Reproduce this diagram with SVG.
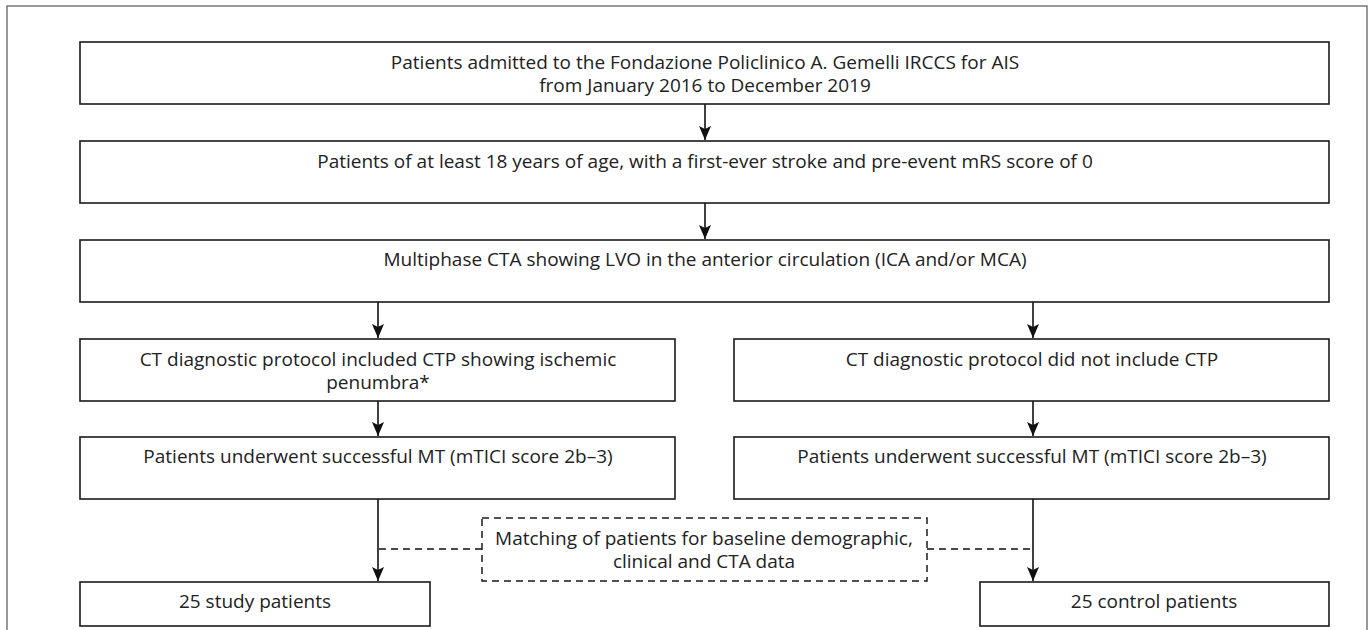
<svg xmlns="http://www.w3.org/2000/svg" width="1371" height="630" viewBox="0 0 1371 630">
<defs>
<marker id="arr" markerWidth="14" markerHeight="12" refX="14" refY="6" orient="auto" markerUnits="userSpaceOnUse" viewBox="0 0 14 12">
<path d="M0,0 L14,6 L0,12 L3,6 Z" fill="#111"/>
</marker>
</defs>
<style>
.box{fill:#fff;stroke:#1a1a1a;stroke-width:1.6}
.dbox{fill:#fff;stroke:#1a1a1a;stroke-width:1.5;stroke-dasharray:7,5}
.t{font-family:"Open Sans","Noto Sans",sans-serif;font-size:19px;fill:#222;text-anchor:middle}
.c{fill:none;stroke:#111;stroke-width:1.6}
.d{fill:none;stroke:#111;stroke-width:1.5;stroke-dasharray:7,5}
</style>
<rect x="0" y="0" width="1371" height="630" fill="#fff"/>
<rect x="7" y="6" width="1360" height="640" fill="none" stroke="#555" stroke-width="1.2"/>
<g id="connectors">
<line class="c" x1="705" y1="104" x2="705" y2="140" marker-end="url(#arr)"/>
<line class="c" x1="705" y1="203" x2="705" y2="239" marker-end="url(#arr)"/>
<line class="c" x1="378" y1="302" x2="378" y2="338" marker-end="url(#arr)"/>
<line class="c" x1="1033" y1="302" x2="1033" y2="338" marker-end="url(#arr)"/>
<line class="c" x1="378" y1="401" x2="378" y2="436" marker-end="url(#arr)"/>
<line class="c" x1="1033" y1="401" x2="1033" y2="436" marker-end="url(#arr)"/>
<line class="c" x1="378" y1="499" x2="378" y2="581" marker-end="url(#arr)"/>
<line class="c" x1="1033" y1="499" x2="1033" y2="581" marker-end="url(#arr)"/>
<line class="d" x1="379" y1="549" x2="482" y2="549"/>
<line class="d" x1="927" y1="549" x2="1032" y2="549"/>
</g>
<g id="n1">
<rect class="box" x="80" y="42" width="1249" height="62"/>
<text class="t" x="705" y="69">Patients admitted to the Fondazione Policlinico A. Gemelli IRCCS for AIS</text>
<text class="t" x="705" y="92">from January 2016 to December 2019</text>
</g>
<g id="n2">
<rect class="box" x="80" y="141" width="1249" height="62"/>
<text class="t" x="705" y="168">Patients of at least 18 years of age, with a first-ever stroke and pre-event mRS score of 0</text>
</g>
<g id="n3">
<rect class="box" x="80" y="240" width="1249" height="62"/>
<text class="t" x="705" y="266">Multiphase CTA showing LVO in the anterior circulation (ICA and/or MCA)</text>
</g>
<g id="n4">
<rect class="box" x="80" y="339" width="595" height="62"/>
<text class="t" x="378" y="366">CT diagnostic protocol included CTP showing ischemic</text>
<text class="t" x="378" y="389">penumbra*</text>
</g>
<g id="n5">
<rect class="box" x="734" y="339" width="595" height="62"/>
<text class="t" x="1032" y="366">CT diagnostic protocol did not include CTP</text>
</g>
<g id="n6">
<rect class="box" x="80" y="437" width="595" height="62"/>
<text class="t" x="378" y="463">Patients underwent successful MT (mTICI score 2b–3)</text>
</g>
<g id="n7">
<rect class="box" x="734" y="437" width="595" height="62"/>
<text class="t" x="1032" y="463">Patients underwent successful MT (mTICI score 2b–3)</text>
</g>
<g id="n8">
<rect class="dbox" x="482" y="518" width="445" height="63"/>
<text class="t" x="704" y="545">Matching of patients for baseline demographic,</text>
<text class="t" x="704" y="568">clinical and CTA data</text>
</g>
<g id="n9">
<rect class="box" x="80" y="582" width="350" height="44"/>
<text class="t" x="255" y="608">25 study patients</text>
</g>
<g id="n10">
<rect class="box" x="980" y="582" width="349" height="44"/>
<text class="t" x="1154" y="608">25 control patients</text>
</g>
</svg>
